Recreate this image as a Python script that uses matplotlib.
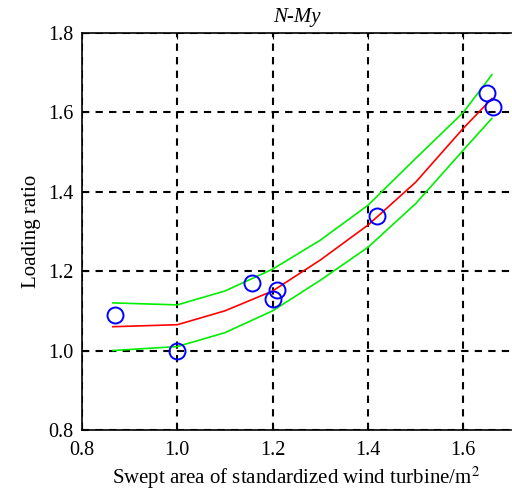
import matplotlib
matplotlib.use("Agg")
import matplotlib.pyplot as plt

# Observed data points
pts_x = [0.87, 1.00, 1.156, 1.20, 1.21, 1.42, 1.65, 1.663]
pts_y = [1.09, 1.00, 1.17, 1.13, 1.152, 1.34, 1.648, 1.613]

# Fitted curve and bounds
curve_x = [0.865, 1.0, 1.1, 1.2, 1.3, 1.4, 1.5, 1.6, 1.66]
fit_y   = [1.06, 1.065, 1.10, 1.15, 1.228, 1.316, 1.424, 1.56, 1.635]
upper_y = [1.12, 1.115, 1.15, 1.205, 1.278, 1.366, 1.484, 1.60, 1.695]
lower_y = [1.00, 1.01, 1.045, 1.10, 1.177, 1.26, 1.37, 1.505, 1.585]

xticks = [0.8, 1.0, 1.2, 1.4, 1.6]
yticks = [0.8, 1.0, 1.2, 1.4, 1.6, 1.8]

plt.rcParams['font.family'] = ['Liberation Serif', 'DejaVu Serif']
plt.rcParams['mathtext.fontset'] = 'stix'

fig = plt.figure(figsize=(5.12, 4.93), dpi=100)
ax = fig.add_axes([0.160, 0.128, 0.838, 0.805])

ax.plot(curve_x, upper_y, color='#00ee00', lw=1.2, zorder=3)
ax.plot(curve_x, lower_y, color='#00ee00', lw=1.2, zorder=3)
ax.plot(curve_x, fit_y, color='#ff0000', lw=1.2, zorder=3)
ax.plot(pts_x, pts_y, 'o', mfc='none', mec='#0000ff', mew=1.4, ms=11.5, zorder=4)

ax.set_xlim(0.8, 1.7)
ax.set_ylim(0.8, 1.8)
ax.set_xticks(xticks)
ax.set_yticks(yticks)
ax.set_xticklabels([f"{v:.1f}" for v in xticks])
ax.set_yticklabels([f"{v:.1f}" for v in yticks])
ax.tick_params(direction='in', labelsize=14.5, length=4, top=True, right=False)
ax.tick_params(axis='x', pad=8)
ax.tick_params(axis='y', pad=6)
ax.grid(True, color='black', linestyle=(0, (3.5, 3.0)), linewidth=1.5)
for s in ax.spines.values():
    s.set_linewidth(1.2)
ax.spines['right'].set_visible(False)

ax.set_xlabel('Swept area of standardized wind turbine/m$^2$', fontsize=15, labelpad=3)
ax.set_ylabel('Loading ratio', fontsize=15, labelpad=5)
ax.set_title('N-My', fontsize=15, style='italic', pad=8)

fig.savefig('out.png', dpi=100)
